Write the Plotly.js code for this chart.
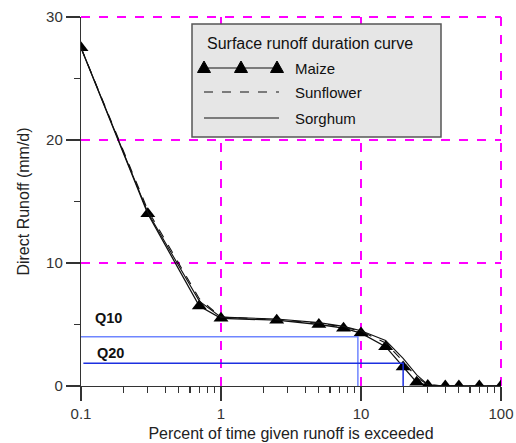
<!DOCTYPE html>
<html>
<head>
<meta charset="utf-8">
<script src="https://cdn.plot.ly/plotly-3.0.1.min.js"></script>
<style>html,body{margin:0;padding:0;background:#fff}#chart{width:516px;height:443px}</style>
</head>
<body>
<div id="chart"></div>
<script>
// Percent of time given runoff is exceeded
var pctMaize = [0.1, 0.3, 0.7, 1, 2.5, 5, 7.5, 10, 15, 20, 25, 30, 40, 50, 70, 100];
var runoffMaize = [27.5, 14, 6.5, 5.5, 5.35, 5.0, 4.7, 4.3, 3.2, 1.55, 0.3, 0.05, 0, 0, 0, 0];
var pctSunflower = [0.1, 0.3, 0.7, 1, 2.5, 5, 7.5, 10, 15, 20, 25, 30, 40, 50, 70, 100];
var runoffSunflower = [27.5, 14.3, 7.1, 5.6, 5.4, 5.1, 4.8, 4.45, 3.5, 2.0, 0.7, 0.1, 0, 0, 0, 0];
var pctSorghum = [0.1, 0.3, 0.7, 1, 2.5, 5, 7.5, 10, 15, 20, 25, 30, 40, 50, 70, 100];
var runoffSorghum = [27.5, 14.1, 6.9, 5.6, 5.45, 5.15, 4.85, 4.5, 3.7, 2.25, 0.9, 0.1, 0, 0, 0, 0];
// Q10 / Q20 reference lines
var q10x = [0.1, 9.5, 9.5];
var q10y = [4.0, 4.0, 0];
var q20x = [0.104, 20, 20];
var q20y = [1.85, 1.85, 0];
var qLabels = ['Q10', 'Q20'];
var qLabelY = [5.5, 2.7];
var xTickVals = [0.1, 1, 10, 100];
var xTickText = ['0.1', '1', '10', '100'];
var yTickVals = [0, 10, 20, 30];
var legendTitle = 'Surface runoff duration curve';
var seriesNames = ['Maize', 'Sunflower', 'Sorghum'];

var font = 'Arial, "Liberation Sans", Helvetica, sans-serif';
var M = {l: 81, r: 15, t: 17, b: 57};
var W = 516, H = 443;
var PW = W - M.l - M.r, PH = H - M.t - M.b;
function px(x) { return (x - M.l) / PW; }
function py(y) { return (H - M.b - y) / PH; }

var traces = [
  {x: pctMaize, y: runoffMaize, name: seriesNames[0], mode: 'lines+markers',
   line: {color: '#111', width: 1.3}, marker: {symbol: 'triangle-up', size: 13, color: '#000'}},
  {x: pctSunflower, y: runoffSunflower, name: seriesNames[1], mode: 'lines',
   line: {color: '#111', width: 1.1, dash: 'dash'}},
  {x: pctSorghum, y: runoffSorghum, name: seriesNames[2], mode: 'lines',
   line: {color: '#111', width: 1.1}},
  {x: q10x, y: q10y, mode: 'lines', name: qLabels[0], hoverinfo: 'skip',
   line: {color: '#6f86ff', width: 1.5}},
  {x: q20x, y: q20y, mode: 'lines', name: qLabels[1], hoverinfo: 'skip',
   line: {color: '#1c2fe0', width: 1.5}}
];

var gridColor = 'rgb(255,0,255)';
var shapes = [
  // grid lines on the top and right frame edges (Plotly omits edge grid lines)
  {type: 'line', xref: 'paper', yref: 'paper', x0: 0, x1: 1, y0: 1, y1: 1, layer: 'below',
   line: {color: gridColor, width: 2, dash: 'dash'}},
  {type: 'line', xref: 'paper', yref: 'paper', x0: 1, x1: 1, y0: 0, y1: 1, layer: 'below',
   line: {color: gridColor, width: 2, dash: 'dash'}}
];
// legend box drawn as layout shapes / annotations
var lgX = px(192), lgY = py(24);
shapes.push({type: 'rect', xref: 'paper', yref: 'paper', xsizemode: 'pixel', ysizemode: 'pixel',
   xanchor: lgX, yanchor: lgY, x0: 0, x1: 249, y0: 0, y1: -113,
   fillcolor: '#e6e6e6', line: {color: '#555', width: 1.5}, layer: 'above'});
var sampleRows = [68, 92, 118];
var sampleDash = ['solid', 'dash', 'solid'];
for (var i = 0; i < 3; i++) {
  shapes.push({type: 'line', xref: 'paper', yref: 'paper', x0: px(204), x1: px(279),
    y0: py(sampleRows[i]), y1: py(sampleRows[i]), layer: 'above',
    line: {color: '#111', width: 1.2, dash: sampleDash[i]}});
}
var triX = [204, 241, 277];
for (var j = 0; j < triX.length; j++) {
  shapes.push({type: 'path', xref: 'paper', yref: 'paper', xsizemode: 'pixel', ysizemode: 'pixel',
    xanchor: px(triX[j]), yanchor: py(sampleRows[0]), layer: 'above',
    path: 'M-6.5,-4.5 L6.5,-4.5 L0,7 Z', fillcolor: '#000', line: {color: '#000', width: 1}});
}

var annotations = [
  {xref: 'paper', yref: 'paper', x: px(309.5), y: py(43), text: legendTitle, showarrow: false,
   xanchor: 'center', yanchor: 'middle', font: {family: font, size: 16, color: '#111'}}
];
for (var k = 0; k < 3; k++) {
  annotations.push({xref: 'paper', yref: 'paper', x: px(293), y: py(sampleRows[k]), text: seriesNames[k],
    showarrow: false, xanchor: 'left', yanchor: 'middle', font: {family: font, size: 15, color: '#111'}});
}
var qLabelX = [93, 95];
for (var q = 0; q < 2; q++) {
  annotations.push({xref: 'paper', yref: 'y', x: px(qLabelX[q]), y: qLabelY[q], text: '<b>' + qLabels[q] + '</b>',
    showarrow: false, xanchor: 'left', font: {family: font, size: 14.5, color: '#111'}});
}

var layout = {
  width: W, height: H,
  margin: M,
  paper_bgcolor: '#fff', plot_bgcolor: '#fff',
  font: {family: font, size: 15, color: '#222'},
  showlegend: false,
  xaxis: {
    type: 'log', range: [-1, 2],
    tickvals: xTickVals, ticktext: xTickText,
    ticks: 'outside', ticklen: 14, tickwidth: 1.2, tickcolor: '#333',
    showline: true, linecolor: '#333', linewidth: 1.2,
    showgrid: true, gridcolor: gridColor, griddash: 'dash', gridwidth: 2,
    zeroline: false,
    minor: {dtick: 'D1', ticks: 'outside', ticklen: 6, tickwidth: 1.2, tickcolor: '#333', showgrid: false},
    tickfont: {size: 15, color: '#333'},
    title: {text: 'Percent of time given runoff is exceeded', font: {size: 16, color: '#222'}, standoff: 6}
  },
  yaxis: {
    range: [0, 30],
    tickvals: yTickVals,
    ticks: 'outside', ticklen: 14, tickwidth: 1.2, tickcolor: '#333',
    showline: true, linecolor: '#333', linewidth: 1.2,
    showgrid: true, gridcolor: gridColor, griddash: 'dash', gridwidth: 2,
    zeroline: false,
    minor: {dtick: 5, ticks: 'outside', ticklen: 6, tickwidth: 1.2, tickcolor: '#333', showgrid: false},
    tickfont: {size: 15, color: '#333'},
    title: {text: 'Direct Runoff (mm/d)', font: {size: 16, color: '#222'}, standoff: 12}
  },
  shapes: shapes,
  annotations: annotations
};

Plotly.newPlot('chart', traces, layout, {displayModeBar: false, staticPlot: true});
</script>
</body>
</html>
